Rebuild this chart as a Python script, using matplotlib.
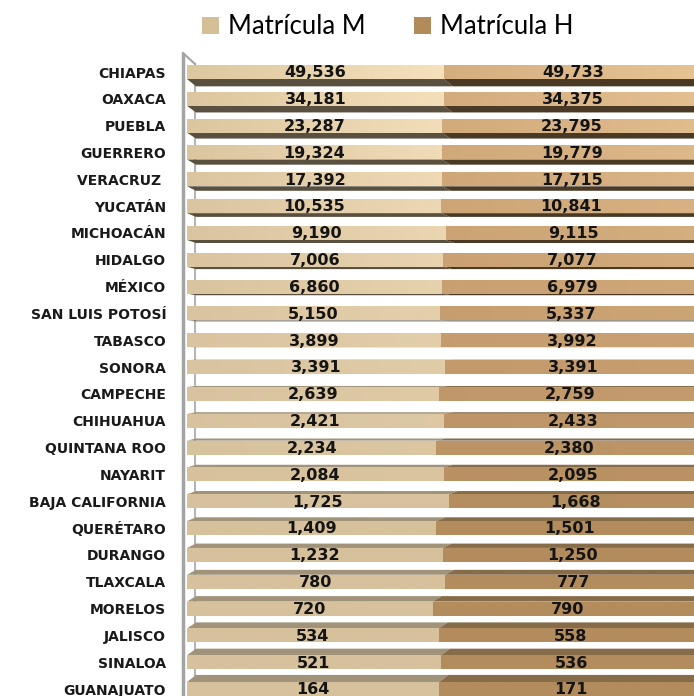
import numpy as np
import matplotlib.pyplot as plt
from matplotlib.patches import Patch, Polygon
from matplotlib.colors import to_rgb

estados = ["CHIAPAS", "OAXACA", "PUEBLA", "GUERRERO", "VERACRUZ ", "YUCATÁN",
           "MICHOACÁN", "HIDALGO", "MÉXICO", "SAN LUIS POTOSÍ", "TABASCO",
           "SONORA", "CAMPECHE", "CHIHUAHUA", "QUINTANA ROO", "NAYARIT",
           "BAJA CALIFORNIA", "QUERÉTARO", "DURANGO", "TLAXCALA", "MORELOS",
           "JALISCO", "SINALOA", "GUANAJUATO"]
matricula_m = [49536, 34181, 23287, 19324, 17392, 10535, 9190, 7006, 6860, 5150,
               3899, 3391, 2639, 2421, 2234, 2084, 1725, 1409, 1232, 780, 720,
               534, 521, 164]
matricula_h = [49733, 34375, 23795, 19779, 17715, 10841, 9115, 7077, 6979, 5337,
               3992, 3391, 2759, 2433, 2380, 2095, 1668, 1501, 1250, 777, 790,
               558, 536, 171]

m = np.array(matricula_m, float)
h = np.array(matricula_h, float)
tot = m + h
fm = m / tot
fh = h / tot
rows = np.arange(len(estados))

fig = plt.figure(figsize=(6.94, 6.96), dpi=100)
# pixel layout: bars from x=187 to ~702, row 0 at y=72, pitch ~26.83 px
pitch = 26.83
ax = fig.add_axes([187 / 694, 0, 515 / 694, (696 - 45) / 696])
ax.set_xlim(0, 1)
ax.set_ylim((696 - 72) / pitch, (45 - 72) / pitch)
for s in ax.spines.values():
    s.set_visible(False)
ax.set_xticks([])

bh = 14 / pitch       # front face height
dx = 9 / 515          # depth shift (x)


def mix(c1, c2, t):
    a, b = np.array(to_rgb(c1)), np.array(to_rgb(c2))
    return tuple(a + (b - a) * t)


def row_colors(r):
    # (M left, M right, H left, H right) lighting varies by row
    top = ["#dcc7a0", "#f5e1bb", "#d5ae80", "#e7c394"]
    mid = ["#d9c3a0", "#e1cca8", "#c39a6c", "#c69e70"]
    bot = ["#d6c19c", "#d6c19c", "#b38c5d", "#b38c5d"]
    if r <= 11:
        t = r / 11
        return [mix(a, b, t) for a, b in zip(top, mid)]
    t = min((r - 11) / 6, 1)
    return [mix(a, b, t) for a, b in zip(mid, bot)]


bars_m = ax.barh(rows, fm, height=bh, color="#d6c19c", zorder=3)
bars_h = ax.barh(rows, fh, left=fm, height=bh, color="#b38c5d", zorder=3)

for r in rows:
    cols = row_colors(r)
    for k, bar in enumerate([bars_m[r], bars_h[r]]):
        x0, w = bar.get_x(), bar.get_width()
        y0, hh = bar.get_y(), bar.get_height()
        grad = np.array([[mix(cols[2 * k], cols[2 * k + 1], t) for t in np.linspace(0, 1, 64)]])
        im = ax.imshow(grad, extent=(x0, x0 + w, y0 + hh, y0), aspect="auto",
                       zorder=3.5, interpolation="bilinear")
        im.set_clip_path(bar)
        # perspective depth face
        if r < 10.2:
            dy = 0.72 * (10.2 - r) / pitch
        else:
            dy = 0.56 * (10.2 - r) / pitch
        if dy > 0:
            edge = y0 + hh
            fc = "#5a5040" if k == 0 else "#4a3a25"
        else:
            edge = y0
            fc = "#a1937a" if k == 0 else "#876c4a"
        poly = Polygon([(x0, edge), (x0 + w, edge), (x0 + w + dx, edge + dy), (x0 + dx, edge + dy)],
                       closed=True, facecolor=fc, edgecolor="none", zorder=2)
        ax.add_patch(poly)

# value labels
for r in rows:
    ax.text(fm[r] / 2, r + 0.03, f"{matricula_m[r]:,}", ha="center", va="center",
            fontsize=11.5, fontweight="bold", color="#141414", zorder=5)
    ax.text(fm[r] + fh[r] / 2, r + 0.03, f"{matricula_h[r]:,}", ha="center", va="center",
            fontsize=11.5, fontweight="bold", color="#141414", zorder=5)

# walls: back line shows between bars, front line in front
ytop = (53 - 72) / pitch
ybot = (696 - 72) / pitch
ax.plot([8 / 515, 8 / 515], [(64 - 72) / pitch, ybot], color="#b5b5b5", lw=1.5, zorder=1)
ax.plot([-4 / 515, -4 / 515], [ytop, ybot], color="#a3a3a3", lw=2.5, zorder=6, clip_on=False,
        solid_capstyle="butt")
ax.plot([-4 / 515, 8 / 515], [ytop, (64 - 72) / pitch], color="#a3a3a3", lw=1.5, zorder=6,
        clip_on=False)

ax.set_yticks(rows)
ax.set_yticklabels(estados, fontsize=10, fontweight="bold", color="#1a1a1a")
ax.tick_params(axis="y", length=0, pad=15)

handles = [Patch(facecolor="#d5bf96", label="Matrícula M"),
           Patch(facecolor="#b18c5a", label="Matrícula H")]
fig.legend(handles=handles, loc="center", bbox_to_anchor=(388 / 694, 1 - 27 / 696), ncol=2,
           frameon=False, prop={"family": "Lato", "size": 18.5}, handlelength=0.65,
           handleheight=0.65, handletextpad=0.35, columnspacing=1.9)

fig.savefig("out.png", dpi=100)
